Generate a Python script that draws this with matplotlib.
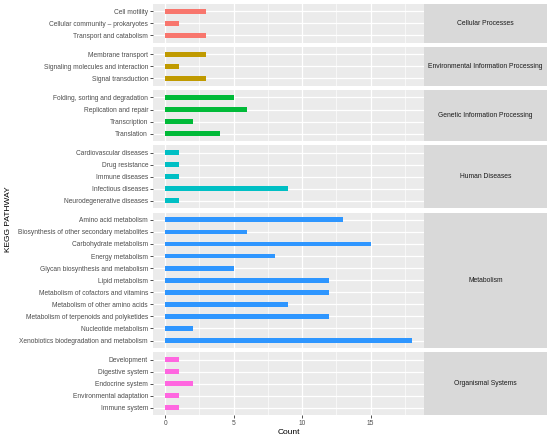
import matplotlib.pyplot as plt
from matplotlib.gridspec import GridSpec

plt.rcParams['font.family'] = ['Liberation Sans', 'DejaVu Sans']

categories = [
    'Cellular Processes',
    'Environmental Information Processing',
    'Genetic Information Processing',
    'Human Diseases',
    'Metabolism',
    'Organismal Systems',
]

pathways = [
    ['Cell motility', 'Cellular community \u2013 prokaryotes', 'Transport and catabolism'],
    ['Membrane transport', 'Signaling molecules and interaction', 'Signal transduction'],
    ['Folding, sorting and degradation', 'Replication and repair', 'Transcription', 'Translation'],
    ['Cardiovascular diseases', 'Drug resistance', 'Immune diseases', 'Infectious diseases',
     'Neurodegenerative diseases'],
    ['Amino acid metabolism', 'Biosynthesis of other secondary metabolites',
     'Carbohydrate metabolism', 'Energy metabolism', 'Glycan biosynthesis and metabolism',
     'Lipid metabolism', 'Metabolism of cofactors and vitamins',
     'Metabolism of other amino acids', 'Metabolism of terpenoids and polyketides',
     'Nucleotide metabolism', 'Xenobiotics biodegradation and metabolism'],
    ['Development', 'Digestive system', 'Endocrine system', 'Environmental adaptation',
     'Immune system'],
]

counts = [
    [3, 1, 3],
    [3, 1, 3],
    [5, 6, 2, 4],
    [1, 1, 1, 9, 1],
    [13, 6, 15, 8, 5, 12, 12, 9, 12, 2, 18],
    [1, 1, 2, 1, 1],
]

colors = ['#F8766D', '#C09A00', '#00BA38', '#00BFC4', '#2E96FF', '#FF66E0']

panel_bg = '#EBEBEB'
strip_bg = '#D9D9D9'
text_col = '#4D4D4D'

fig = plt.figure(figsize=(5.5, 4.38), dpi=100)
heights = [len(p) + 0.2 for p in pathways]
gs = GridSpec(len(categories), 2, figure=fig, height_ratios=heights,
              width_ratios=[271, 123], left=0.278, right=0.9945,
              top=0.9909, bottom=0.0525, hspace=0.0695, wspace=0)

xmax = 18
for i, cat in enumerate(categories):
    ax = fig.add_subplot(gs[i, 0])
    n = len(pathways[i])
    ypos = list(range(n))
    ax.barh(ypos, counts[i], height=0.4, color=colors[i], zorder=3)
    ax.set_facecolor(panel_bg)
    ax.set_xlim(-0.05 * xmax, xmax * 1.05)
    ax.set_ylim(n - 1 + 0.6, -0.6)
    ax.set_yticks(ypos)
    ax.set_yticklabels(pathways[i], fontsize=4.8, color=text_col)
    ax.set_xticks([0, 5, 10, 15])
    ax.set_xticks([2.5, 7.5, 12.5, 17.5], minor=True)
    ax.grid(which='major', color='white', linewidth=0.9, zorder=0)
    ax.grid(which='minor', axis='x', color='white', linewidth=0.45, zorder=0)
    ax.tick_params(axis='y', length=2, width=0.6, color='#333333', pad=1.5)
    ax.tick_params(which='minor', length=0)
    for s in ax.spines.values():
        s.set_visible(False)
    if i == len(categories) - 1:
        ax.set_xticklabels(['0', '5', '10', '15'], fontsize=4.8, color=text_col)
        ax.tick_params(axis='x', length=2, width=0.6, color='#333333', pad=1.5)
        ax.set_xlabel('Count', fontsize=6, labelpad=1.5)
    else:
        ax.tick_params(axis='x', length=0, labelbottom=False)

    sax = fig.add_subplot(gs[i, 1])
    sax.set_facecolor(strip_bg)
    sax.set_xticks([])
    sax.set_yticks([])
    for s in sax.spines.values():
        s.set_visible(False)
    sax.text(0.5, 0.5, cat, ha='center', va='center', fontsize=4.9,
             color='#1A1A1A', transform=sax.transAxes)

fig.text(0.015, 0.5, 'KEGG PATHWAY', rotation=90, ha='center', va='center', fontsize=6)

fig.savefig('out.png', dpi=100)
